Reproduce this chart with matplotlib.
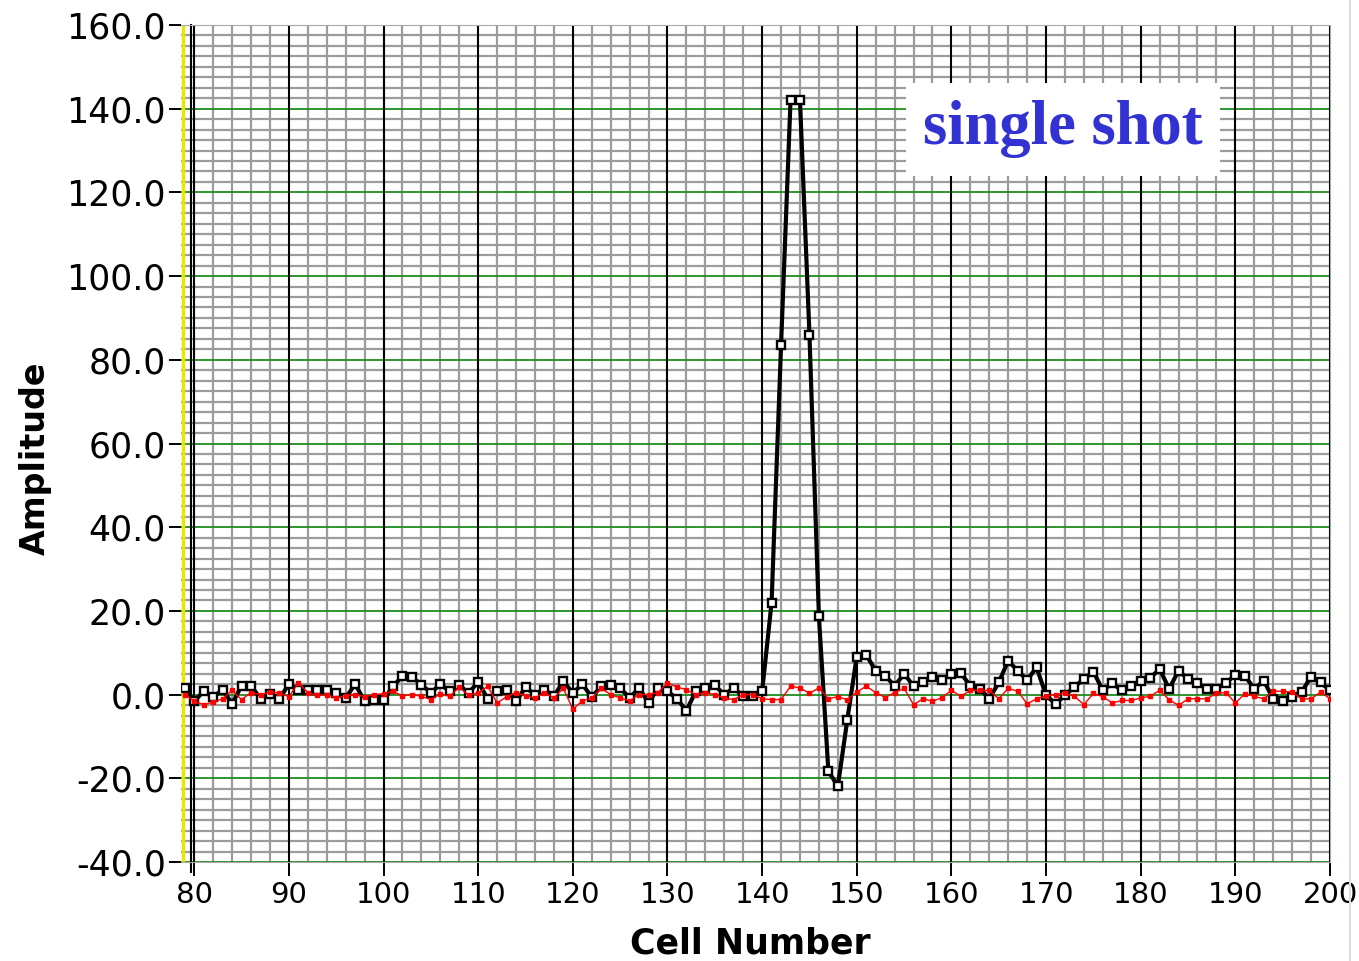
import matplotlib
matplotlib.use("Agg")
import matplotlib.pyplot as plt
from matplotlib.ticker import MultipleLocator, FuncFormatter
import numpy as np

# cell numbers 79..200
cells = np.arange(79, 201)

# black trace (single shot with pulse)
amp_pulse = [
    1.5, -1.6, 0.8, -0.6, 1.2, -2.2, 2.1, 2.1, -1.0, 0.2,      # 79-88
    -1.0, 2.5, 1.0, 1.0, 1.0, 1.0, 0.4, -0.8, 2.5, -1.6,       # 89-98
    -1.2, -1.4, 2.0, 4.4, 4.2, 2.4, 0.4, 2.5, 0.8, 2.2,        # 99-108
    0.4, 3.0, -1.0, 0.8, 1.2, -1.6, 1.7, 0.0, 1.2, -0.4,       # 109-118
    3.2, 0.4, 2.5, -0.6, 2.0, 2.2, 1.6, -0.8, 1.6, -2.0,       # 119-128
    1.6, 0.8, -1.0, -3.8, 0.8, 1.6, 2.2, 0.0, 1.6, -0.4,       # 129-138
    -0.4, 0.8, 22.0, 83.5, 142.0, 142.0, 86.0, 18.7, -18.3, -21.9,  # 139-148
    -6.0, 9.1, 9.5, 5.7, 4.5, 2.1, 4.9, 2.1, 2.9, 4.1,         # 149-158
    3.5, 4.9, 5.1, 2.1, 1.4, -1.0, 2.9, 8.1, 5.7, 3.5,         # 159-168
    6.5, -0.2, -2.2, -0.2, 1.9, 3.7, 5.5, 1.0, 2.7, 1.0,       # 169-178
    2.1, 3.3, 4.0, 6.1, 1.4, 5.7, 3.7, 2.7, 1.4, 1.4,          # 179-188
    2.7, 4.8, 4.5, 1.4, 3.3, -1.0, -1.6, -0.5, 0.6, 4.3,       # 189-198
    2.9, 1.0,                                                  # 199-200
]

# red trace (baseline)
amp_base = [
    0.0, -1.5, -2.4, -1.8, -1.0, 1.0, -1.2, 0.5, 0.0, 0.6,     # 79-88
    0.4, -0.5, 2.8, 0.5, -0.2, 0.0, -0.8, -0.3, 0.0, -0.5,     # 89-98
    0.0, 0.2, 0.8, -0.3, 0.0, -0.4, -1.2, 0.2, -0.4, 1.8,      # 99-108
    -0.2, 0.4, 2.0, -2.0, -0.5, 0.5, -0.3, -0.8, 0.5, -0.8,    # 109-118
    1.5, -3.5, -1.5, -0.8, 1.5, 0.0, -0.8, -1.5, 0.0, 0.0,     # 119-128
    0.5, 2.8, 1.8, 1.2, 0.0, 0.5, 0.0, -0.8, -1.2, 0.0,        # 129-138
    0.0, -1.0, -1.2, -1.2, 2.0, 1.6, 0.3, 1.6, -1.0, -0.5,     # 139-148
    -1.2, 0.6, 2.0, 0.5, -0.7, 0.5, 1.5, -2.4, -1.0, -1.6,     # 149-158
    -0.7, 1.0, -0.4, 1.0, 1.0, 1.0, -1.0, 1.5, 0.8, -2.2,      # 159-168
    -1.0, -0.3, 0.0, 0.3, -0.4, -2.4, 0.3, -0.5, -2.0, -1.4,   # 169-178
    -1.4, -0.8, -0.4, 1.0, -1.2, -2.6, -1.0, -1.0, -1.0, 0.3,  # 179-188
    0.5, -2.0, 0.2, -0.4, -1.0, 0.8, 0.8, 0.6, -1.0, -1.0,     # 189-198
    0.6, -1.0,                                                 # 199-200
]

x_ticks = list(range(80, 201, 10))
y_ticks = list(range(-40, 161, 20))


fig = plt.figure(figsize=(13.59, 9.61), dpi=100)
ax = fig.add_axes([181/1359, 1-862/961, (1330-181)/1359, (862-25)/961])

ax.set_xlim(78.6, 200)
ax.set_ylim(-40, 160)

ax.xaxis.set_minor_locator(MultipleLocator(2))
ax.yaxis.set_minor_locator(MultipleLocator(2.5))
ax.set_xticks(x_ticks)
ax.set_yticks(y_ticks)
ax.yaxis.set_major_formatter(FuncFormatter(lambda v, p: "%.1f" % v))

ax.set_axisbelow(True)
ax.grid(which='minor', color='#9c9c9c', lw=1.6)
# major grid drawn on top of the gray mesh
for yv in y_ticks:
    ax.axhline(yv, color='#1e8c1e', lw=1.3, zorder=1)
for xv in x_ticks:
    ax.axvline(xv, color='black', lw=1.5, zorder=1.1)

# cursors near the left edge
ax.axvline(78.76, color='#e8e800', lw=2.5, zorder=1)
ax.plot([79.63, 79.63], [-0.012, 1], color='black', lw=1.5,
        transform=ax.get_xaxis_transform(), clip_on=False, zorder=1.1)

ax.plot(cells, amp_pulse, color='black', lw=3.0, marker='s', ms=5.5,
        mfc='white', mec='black', mew=1.7, zorder=3)
ax.plot(cells, amp_base, color='red', lw=1.0, marker='s', ms=3.5,
        mfc='red', mec='red', zorder=4)

for s in ax.spines.values():
    s.set_color('#a8a8a8')
ax.spines['left'].set_visible(False)

ax.tick_params(axis='y', which='major', labelsize=25, length=9, width=1.4, pad=2)
ax.tick_params(axis='x', which='major', labelsize=21, length=10, width=1.4, pad=4)
ax.tick_params(which='minor', length=0)

fig.text(35/1359, 1-458/961, 'Amplitude', rotation=90, fontsize=24,
         fontweight='bold', ha='center', va='center')
fig.text(750/1359, 1-926/961, 'Cell Number', fontsize=25,
         fontweight='bold', ha='center', va='top')

fig.text(1063/1359, 1-129/961, 'single shot', fontsize=45, fontweight='bold',
         family='Liberation Serif', color='#3232d2', ha='center', va='center',
         bbox=dict(boxstyle='square,pad=0.28', fc='white', ec='none'))

fig.add_artist(plt.Line2D([1350/1359, 1350/1359], [0, 1], color='#dddddd', lw=1.5))

plt.savefig('out.png', dpi=100)
